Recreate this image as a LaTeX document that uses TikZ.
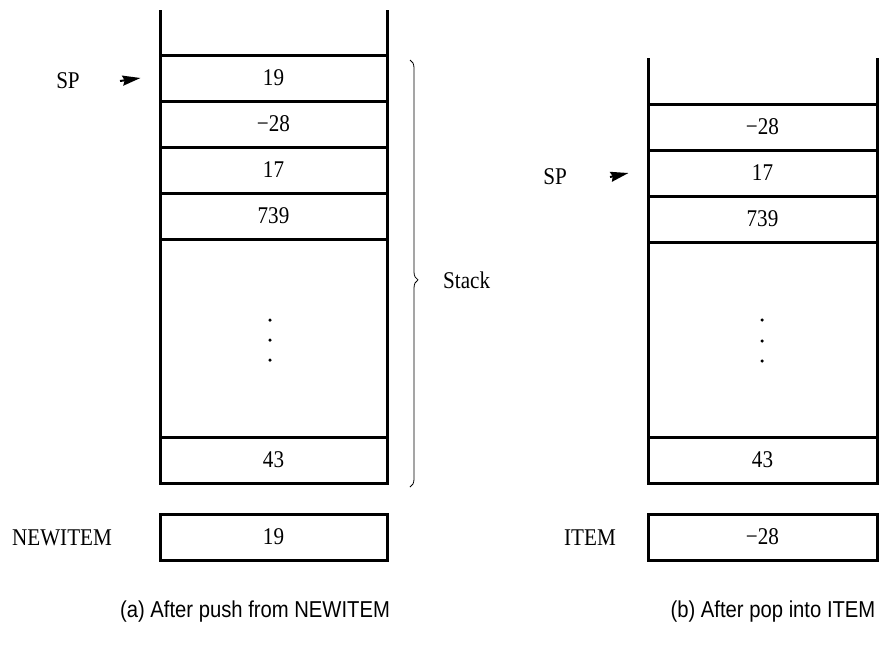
\documentclass[tikz,border=0pt]{standalone}
\usepackage{fontspec}
\setmainfont{Liberation Serif}
\newfontfamily\labfont[FakeStretch=0.88]{Liberation Serif}
\newfontfamily\capfont[FakeStretch=0.88]{Liberation Sans}
\usetikzlibrary{decorations.pathreplacing,arrows.meta}
\begin{document}
\begin{tikzpicture}[x=1pt,y=-1pt,
  wall/.style={line width=3pt},
  cell/.style={draw,line width=3pt,minimum height=46pt,inner sep=0pt,
    font=\labfont\fontsize{24}{24}\selectfont},
  lcell/.style={cell,minimum width=227pt},
  rcell/.style={cell,minimum width=229pt},
  lbl/.style={font=\labfont\fontsize{24}{24}\selectfont,inner sep=0pt},
  captext/.style={font=\capfont\fontsize{23}{23}\selectfont,inner sep=0pt},
  sparrow/.style={line width=2pt,-{Stealth[length=18pt,width=10pt,inset=2pt]}},
  dot/.style={fill,circle,inner sep=0pt,minimum size=3.5pt}]
\useasboundingbox (0,0) rectangle (880,646);

% ---- (a) stack after push ----
\draw[wall] (160,10) -- (160,483) -- (387,483) -- (387,10);
\node[lcell] (a19)  at (273.5,78)  {19};
\node[lcell] (am28) at (273.5,124) {\textminus28};
\node[lcell] (a17)  at (273.5,170) {17};
\node[lcell] (a739) at (273.5,216) {739};
\node[lcell] (a43)  at (273.5,460) {43};
\node[dot] (ad1) at (270,320) {};
\node[dot] (ad2) at (270,340) {};
\node[dot] (ad3) at (270,360) {};

\node[lbl] (aSP) at (68,81) {SP};
\coordinate (aSPtail) at (120,81);
\draw[sparrow] (aSPtail) -- ([xshift=-18pt]a19.west);

\draw[line width=0.8pt,decorate,decoration={brace,amplitude=8pt,aspect=0.515}]
  (410,60) -- (410,487);
\node[lbl,anchor=west] (stk) at (443,280) {Stack};

\node[lbl] (newl) at (62,538) {NEWITEM};
\node[lcell] (newitem) at (273.5,537) {19};

\node[captext] (capa) at (255,612) {(a) After push from NEWITEM};

% ---- (b) stack after pop ----
\draw[wall] (648,58) -- (648,483) -- (877,483) -- (877,58);
\draw[wall] (648,104) -- (877,104);
\node[rcell] (bm28) at (762.5,127) {\textminus28};
\node[rcell] (b17)  at (762.5,173) {17};
\node[rcell] (b739) at (762.5,219) {739};
\node[rcell] (b43)  at (762.5,460) {43};
\node[dot] (bd1) at (762,320) {};
\node[dot] (bd2) at (762,341) {};
\node[dot] (bd3) at (762,361) {};

\node[lbl] (bSP) at (555,177) {SP};
\coordinate (bSPtail) at (610,177);
\draw[sparrow] (bSPtail) -- ([xshift=-18pt]b17.west);

\node[lbl] (iteml) at (590,538) {ITEM};
\node[rcell] (item) at (762.5,537) {\textminus28};

\node[captext] (capb) at (773,612) {(b) After pop into ITEM};
\end{tikzpicture}
\end{document}
